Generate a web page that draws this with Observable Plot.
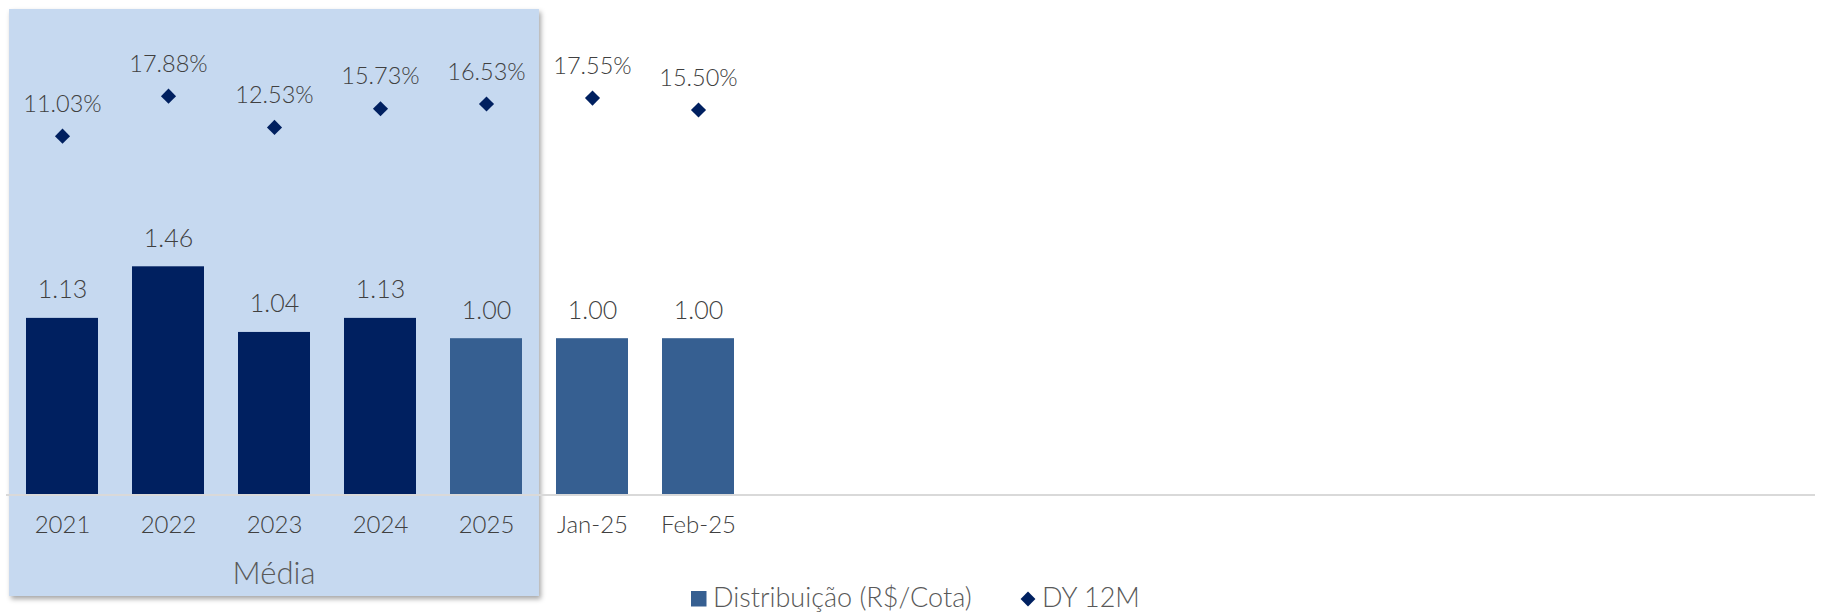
<!DOCTYPE html>
<html>
<head>
<meta charset="utf-8">
<script src="https://cdn.jsdelivr.net/npm/d3@7"></script>
<script src="https://cdn.jsdelivr.net/npm/@observablehq/plot@0.6"></script>
<style>
  html, body { margin: 0; padding: 0; background: #fff; overflow: hidden; }
  #chart { width: 1829px; height: 613px; }
</style>
</head>
<body>
<div id="chart"></div>
<script>
// ---- data ----
const categories = ["2021", "2022", "2023", "2024", "2025", "Jan-25", "Feb-25"];
const distribuicao = [1.13, 1.46, 1.04, 1.13, 1.00, 1.00, 1.00];
const dy12m = [11.03, 17.88, 12.53, 15.73, 16.53, 17.55, 15.50];
const mediaGroup = ["2021", "2022", "2023", "2024", "2025"];
const darkCats = ["2021", "2022", "2023", "2024"];
const emptySlots = ["_1","_2","_3","_4","_5","_6","_7","_8","_9","_10"];
const legendLabels = ["Distribuição (R$/Cota)", "DY 12M"];

// ---- styles ----
const DARK = "#002060";
const MID = "#365F91";
const PANEL = "#C6D9F0";
const TEXT = "#404040";
const FONT = "Lato, 'Open Sans', sans-serif";
const WEIGHT = 300;

const rows = categories.map((c, i) => ({cat: c, dist: distribuicao[i], dy: dy12m[i]}));

// secondary axis (DY 12M, %) mapped into the primary y units
const y2 = d3.scaleLinear().domain([0, 20]).range([1.884, 2.631]);

const W = 1829, H = 613;
const plot = Plot.plot({
  width: W,
  height: H,
  marginLeft: 6,
  marginRight: 14,
  marginTop: 25.6,
  marginBottom: 118.5,
  style: {fontFamily: FONT, fontSize: "24px", fontWeight: WEIGHT, color: TEXT, background: "transparent"},
  x: {domain: categories.concat(emptySlots), paddingInner: 0.32, paddingOuter: 0.16, axis: null, label: null},
  y: {domain: [0, 3], axis: null},
  marks: [
    Plot.barY(rows, {x: "cat", y: "dist", fill: d => darkCats.includes(d.cat) ? DARK : MID}),
    Plot.ruleY([0], {stroke: "#D9D9D9", strokeWidth: 2}),
    Plot.text(rows, {x: "cat", y: "dist", text: d => d.dist.toFixed(2), dy: -28, lineAnchor: "middle", fontSize: 25, fill: TEXT}),
    Plot.dot(rows, {x: "cat", y: d => y2(d.dy), symbol: "diamond2", r: 6.8, fill: DARK, stroke: "none"}),
    Plot.text(rows, {x: "cat", y: d => y2(d.dy), text: d => d.dy.toFixed(2) + "%", dy: -32, lineAnchor: "middle", fontSize: 23.5, fill: TEXT}),
    Plot.axisX({ticks: categories, tickSize: 0, tickPadding: 21, fontSize: 24, fill: TEXT, label: null})
  ]
});

document.getElementById("chart").appendChild(plot);

// ---- group panel ("Média") behind the marks, positioned from the x scale ----
const xs = plot.scale("x");
const step = xs.step;
const first = mediaGroup[0], last = mediaGroup[mediaGroup.length - 1];
const px0 = xs.apply(first) - step * 0.16;
const px1 = xs.apply(last) + xs.bandwidth + step * 0.16;
const svg = d3.select(plot);

const defs = svg.insert("defs", ":first-child");
const f = defs.append("filter").attr("id", "shadow").attr("x", "-5%").attr("y", "-5%").attr("width", "115%").attr("height", "115%");
f.append("feDropShadow").attr("dx", 2).attr("dy", 3).attr("stdDeviation", 2.5).attr("flood-color", "#000").attr("flood-opacity", 0.35);

const panelG = svg.insert("g", "defs + *");
panelG.append("rect")
  .attr("x", px0).attr("y", 9)
  .attr("width", px1 - px0).attr("height", 587)
  .attr("fill", PANEL)
  .attr("filter", "url(#shadow)");

svg.append("text")
  .attr("x", (px0 + px1) / 2).attr("y", 576)
  .attr("text-anchor", "middle").attr("dominant-baseline", "middle")
  .attr("font-size", 31).attr("fill", "#595959").attr("font-family", FONT).attr("font-weight", WEIGHT)
  .text("Média");

// ---- legend ----
const lg = svg.append("g").attr("font-family", FONT).attr("font-size", 27).attr("font-weight", WEIGHT)
  .attr("fill", "#595959").attr("text-anchor", "start");
lg.append("rect").attr("x", 691).attr("y", 591).attr("width", 15.5).attr("height", 15.5).attr("fill", MID);
lg.append("text").attr("x", 713).attr("y", 600).attr("text-anchor", "start").attr("dominant-baseline", "middle").text(legendLabels[0]);
lg.append("path").attr("d", d3.symbol(d3.symbolDiamond2, 140)()).attr("transform", "translate(1028,599)").attr("fill", DARK);
lg.append("text").attr("x", 1042).attr("y", 600).attr("text-anchor", "start").attr("dominant-baseline", "middle").text(legendLabels[1]);
</script>
</body>
</html>
